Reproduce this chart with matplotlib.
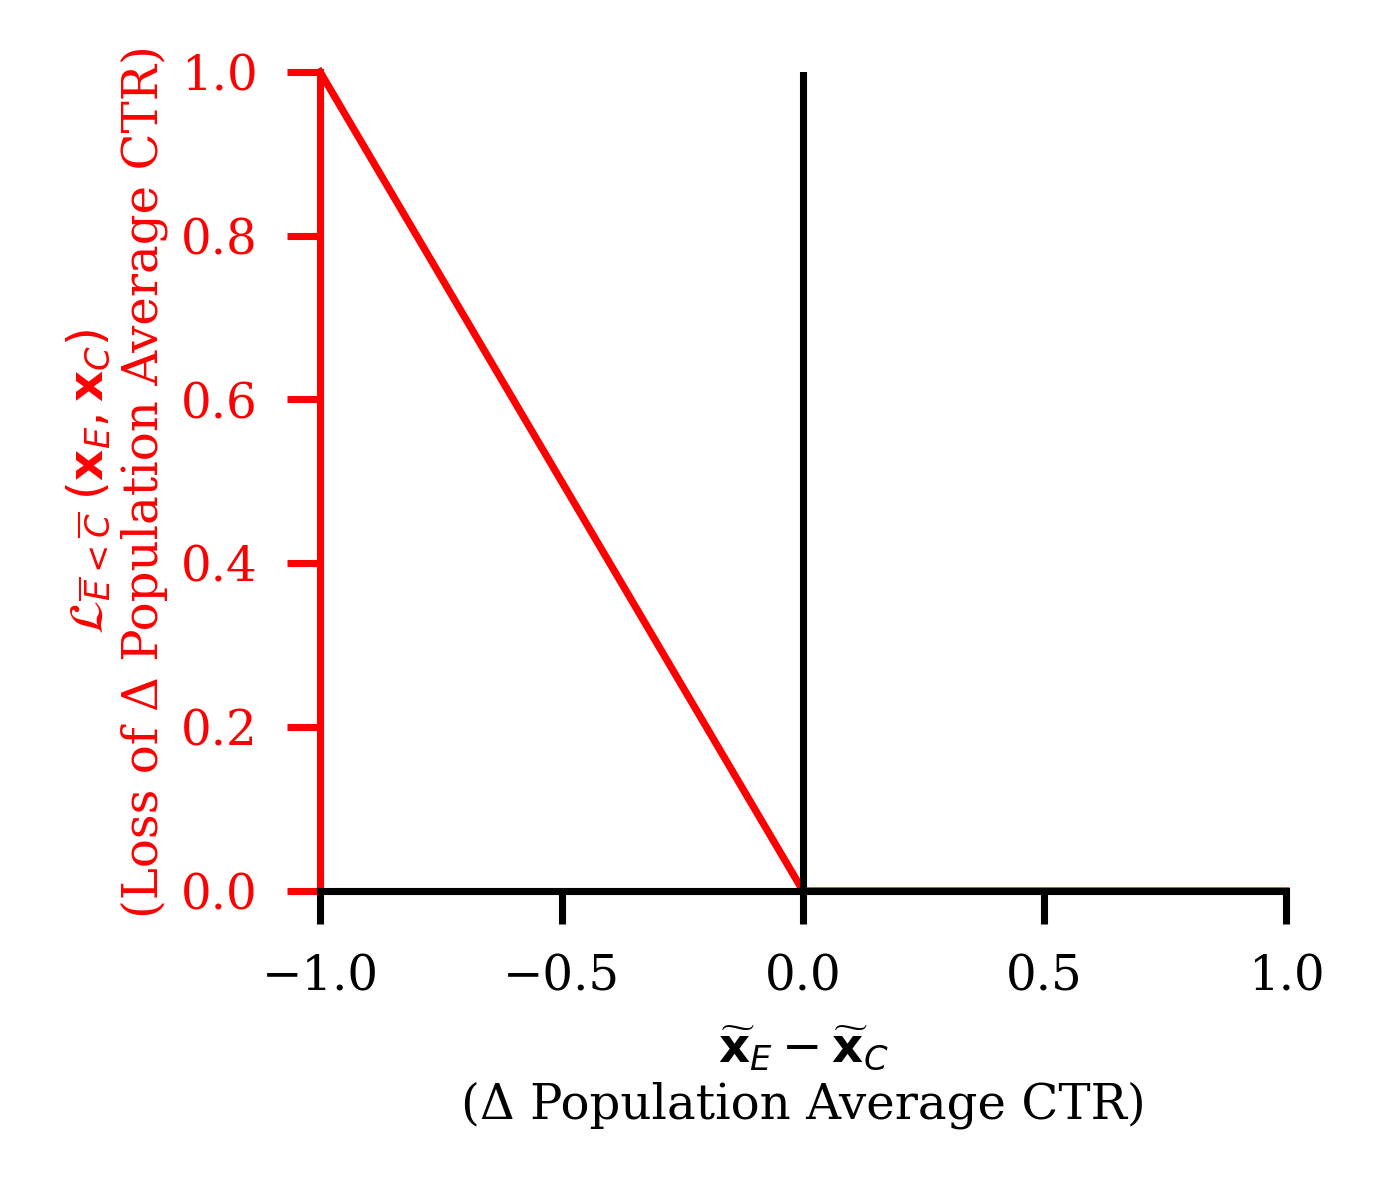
import matplotlib
matplotlib.use("Agg")
import matplotlib.pyplot as plt

plt.rcParams['font.family'] = 'DejaVu Serif'
plt.rcParams['mathtext.fontset'] = 'dejavusans'

# loss curve: hinge at zero
delta = [-1.0, 0.0, 1.0]
loss = [1.0, 0.0, 0.0]
xticks = [-1.0, -0.5, 0.0, 0.5, 1.0]
yticks = [0.0, 0.2, 0.4, 0.6, 0.8, 1.0]

fig = plt.figure(figsize=(4.59, 3.937), dpi=300)
ax = fig.add_axes([0.2324, 0.2456, 0.7015, 0.6935])

ax.plot(delta, loss, color='red', lw=1.75, zorder=2, clip_on=False)
ax.axvline(0, color='black', lw=1.7, zorder=3)

ax.set_xlim(-1, 1)
ax.set_ylim(0, 1)
ax.set_xticks(xticks)
ax.set_yticks(yticks)

for s in ['top', 'right']:
    ax.spines[s].set_visible(False)
ax.spines['left'].set_color('red')
ax.spines['left'].set_linewidth(1.7)
ax.spines['bottom'].set_color('black')
ax.spines['bottom'].set_linewidth(1.7)
ax.spines['bottom'].set_zorder(4)

ax.tick_params(axis='both', length=8, width=1.7, labelsize=11.6, pad=7)
ax.tick_params(axis='y', colors='red')

ax.set_xlabel(r'$\widetilde{\mathbf{x}}_E - \widetilde{\mathbf{x}}_C$' + '\n(Δ Population Average CTR)',
              fontsize=11.6, labelpad=6)
ax.set_ylabel(r'$\mathcal{L}_{\overline{E}<\overline{C}}\;(\mathbf{x}_E, \mathbf{x}_C)$' + '\n(Loss of Δ Population Average CTR)',
              fontsize=11.6, color='red', labelpad=3)

fig.savefig('out.png', dpi=300)
